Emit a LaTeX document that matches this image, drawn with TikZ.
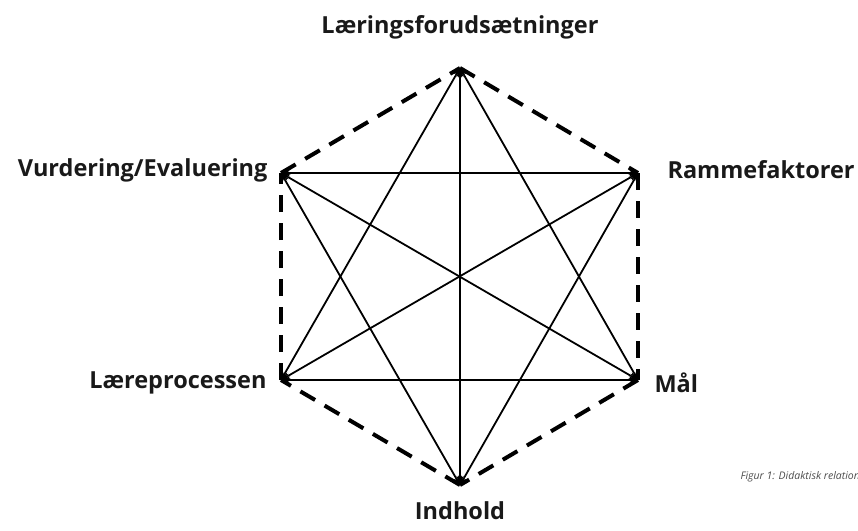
\documentclass[tikz,border=0pt]{standalone}
\usepackage{fontspec}
\setmainfont{Open Sans}
\usetikzlibrary{arrows.meta}
\begin{document}
\begin{tikzpicture}[x=1pt,y=-1pt,
  rel/.style={line width=1.8pt,{Stealth[length=9pt,width=7pt]}-{Stealth[length=9pt,width=7pt]}},
  hexedge/.style={line width=4pt,dash pattern=on 17pt off 11pt},
  lab/.style={font=\bfseries\fontsize{23.5}{28}\selectfont,text=black!90},
  figcap/.style={font=\itshape\fontsize{10.5}{13}\selectfont,text=black!70,anchor=west}]
\useasboundingbox (0,0) rectangle (858,530);
\coordinate (T) at (460,68);
\coordinate (UR) at (638,173);
\coordinate (LR) at (638,380);
\coordinate (B) at (460,485);
\coordinate (LL) at (281,380);
\coordinate (UL) at (281,173);
% dashed hexagon
\draw[hexedge] (T) -- (UR);
\draw[hexedge] (UR) -- (LR);
\draw[hexedge] (LR) -- (B);
\draw[hexedge] (B) -- (LL);
\draw[hexedge] (LL) -- (UL);
\draw[hexedge] (UL) -- (T);
% relations
\draw[rel] (T) -- (B);
\draw[rel] (T) -- (LL);
\draw[rel] (T) -- (LR);
\draw[rel] (B) -- (UL);
\draw[rel] (B) -- (UR);
\draw[rel] (UL) -- (UR);
\draw[rel] (LL) -- (LR);
\draw[rel] (UL) -- (LR);
\draw[rel] (LL) -- (UR);
% labels
\node[lab] (lT) at (460,27) {Læringsforudsætninger};
\node[lab,anchor=west] (lUR) at (664,170) {Rammefaktorer};
\node[lab,anchor=west] (lLR) at (651,383) {Mål};
\node[lab] (lB) at (460,511) {Indhold};
\node[lab,anchor=east] (lLL) at (270,383) {Læreprocessen};
\node[lab,anchor=east] (lUL) at (271,170) {Vurdering/Evaluering};
\node[figcap] (figc) at (737,477) {Figur 1: Didaktisk relationsmodel};
\end{tikzpicture}
\end{document}
